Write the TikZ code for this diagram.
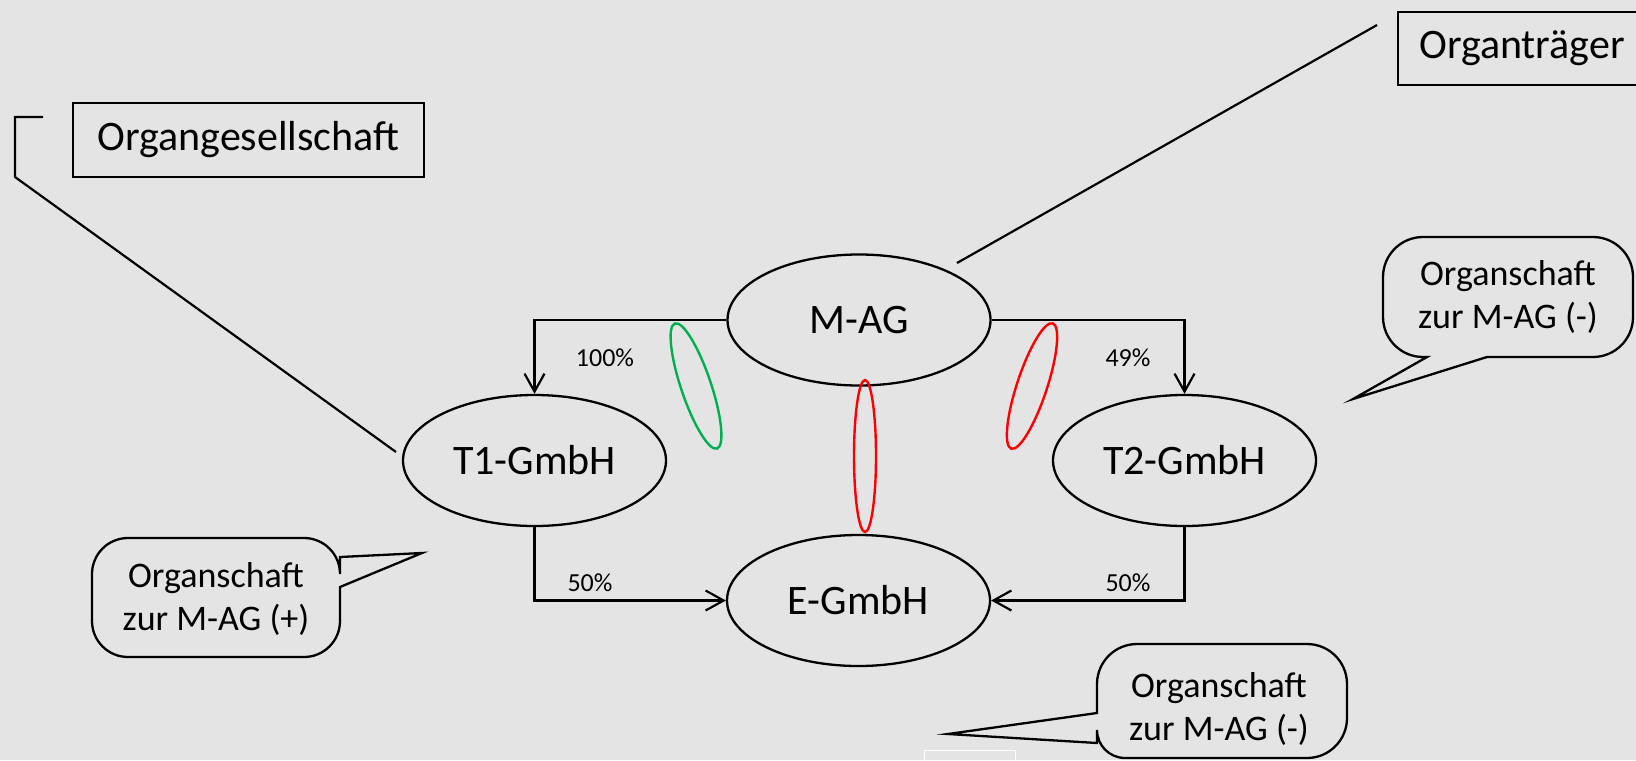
\documentclass[tikz,border=0pt]{standalone}
\usepackage{fontspec}
\setmainfont{Carlito}
\usetikzlibrary{shapes.geometric,arrows.meta}
\definecolor{bg}{RGB}{228,228,228}
\definecolor{ogreen}{RGB}{0,176,80}
\begin{document}
\begin{tikzpicture}[x=0.5pt,y=-0.5pt,
  ent/.style={ellipse,draw,line width=1.15pt,inner sep=0pt,minimum width=131.5pt,minimum height=65.5pt,font=\fontsize{21}{25}\selectfont},
  lbl/.style={draw,line width=1.1pt,inner sep=0pt,font=\fontsize{21}{25}\selectfont},
  pct/.style={font=\fontsize{13}{15}\selectfont,inner sep=0pt},
  conn/.style={line width=1.1pt,-{Straight Barb[length=9pt,width=10pt]}},
  plainline/.style={line width=1.1pt},
  calloutline/.style={line width=1.15pt},
  ctext/.style={align=center,font=\fontsize{18}{21.5}\selectfont,inner sep=0pt},
  marker/.style={line width=1.2pt}]
\fill[bg] (0,0) rectangle (1636,760);
\useasboundingbox (0,0) rectangle (1636,760);

% main entities
\node[ent] (M) at (859,320) {M-AG};
\node[ent] (T1) at (534.5,460.5) {T1-GmbH};
\node[ent] (T2) at (1184.5,460.5) {T2-GmbH};
\node[ent] (E) at (858.5,600.5) {E-GmbH};

% label boxes
\node[lbl,minimum width=175.5pt,minimum height=37pt] (OG) at (248.5,140) {Organgesellschaft};
\node[lbl,minimum width=124pt,minimum height=36.5pt] (OT) at (1522,48.5) {Organträger};

% ownership connectors
\draw[conn] (M.west) -| (T1.north);
\draw[conn] (M.east) -| (T2.north);
\draw[conn] (T1.south) |- (E.west);
\draw[conn] (T2.south) |- (E.east);

\node[pct] (p1) at (605,358) {100\%};
\node[pct] (p2) at (1128,358) {49\%};
\node[pct] (p3) at (590,583) {50\%};
\node[pct] (p4) at (1128,583) {50\%};

% leader lines
\coordinate (b1) at (43,117);
\coordinate (b2) at (396,452);
\draw[plainline] (b1) -- (15,117) -- (15,177) -- (b2);
\coordinate (t1) at (957,263);
\coordinate (t2) at (1377,25);
\draw[plainline] (t1) -- (t2);

% marker ellipses
\draw[ogreen,marker,rotate around={18.6:(696,386)}] (696,386) ellipse [x radius=15,y radius=66];
\draw[red,marker,rotate around={-18.3:(1032,386)}] (1032,386) ellipse [x radius=15,y radius=66];
\draw[red,marker] (865,456) ellipse [x radius=11,y radius=76];

% callouts
\draw[calloutline] (1560,357) [rounded corners=20] -- (1633,357) -- (1633,237) -- (1383,237) -- (1383,357) [sharp corners] -- (1427,357) -- (1353,399) -- (1487,357) -- cycle;
\node[ctext] (c1) at (1508,297) {Organschaft\\zur M-AG (-)};

\draw[calloutline] (216,538) [rounded corners=18] -- (340,538) [sharp corners] -- (340,557) -- (422,553) -- (340,587) [rounded corners=18] -- (340,657) -- (92,657) -- (92,538) -- cycle;
\node[ctext] (c2) at (216,599) {Organschaft\\zur M-AG (+)};

\draw[calloutline] (1222,644) [rounded corners=20] -- (1347,644) -- (1347,758) [rounded corners=14] -- (1097,758) [sharp corners] -- (1097,743) -- (948,734) -- (1097,713) [rounded corners=20] -- (1097,644) -- cycle;
\node[ctext] (c3) at (1219,709) {Organschaft\\zur M-AG (-)};

% small white frame at the bottom edge
\draw[white,line width=0.5pt] (924,750) rectangle (1015,775);
\end{tikzpicture}
\end{document}
